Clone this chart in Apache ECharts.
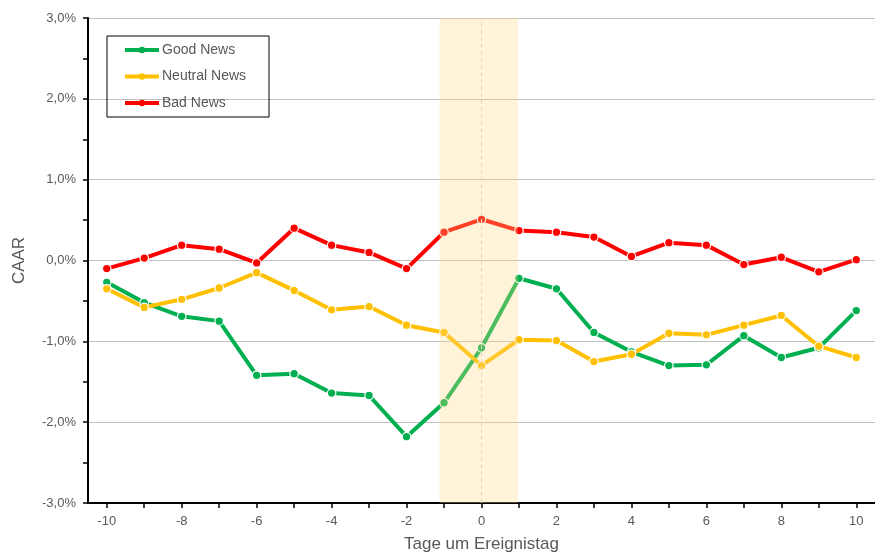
<!DOCTYPE html>
<html>
<head>
<meta charset="utf-8">
<script src="https://cdn.jsdelivr.net/npm/echarts@6/dist/echarts.min.js"></script>
<style>
  html, body { margin: 0; padding: 0; background: #fff; }
  #chart { width: 875px; height: 559px; }
</style>
</head>
<body>
<div id="chart"></div>
<script>
// Event days around the announcement
const days = ['-10','-9','-8','-7','-6','-5','-4','-3','-2','-1','0','1','2','3','4','5','6','7','8','9','10'];

// Cumulative average abnormal returns (CAAR) in percent
const goodNews    = [-0.27,-0.52,-0.69,-0.75,-1.42,-1.40,-1.64,-1.67,-2.18,-1.76,-1.08,-0.22,-0.35,-0.89,-1.13,-1.30,-1.29,-0.93,-1.20,-1.08,-0.62];
const neutralNews = [-0.35,-0.58,-0.48,-0.34,-0.15,-0.37,-0.61,-0.57,-0.80,-0.89,-1.30,-0.98,-0.99,-1.25,-1.16,-0.90,-0.92,-0.80,-0.68,-1.06,-1.20];
const badNews     = [-0.10, 0.03, 0.19, 0.14,-0.03, 0.40, 0.19, 0.10,-0.10, 0.35, 0.51, 0.37, 0.35, 0.29, 0.05, 0.22, 0.19,-0.05, 0.04,-0.14, 0.01];

// Event window shading (in day units) and the event day marker
const eventWindow = [-1.12, 0.97];
const eventDay = 0;

const yTicks = { min: -3, max: 3, step: 1 };

const textColor = '#595959';
const fontFamily = '"Liberation Sans", Arial, sans-serif';

function lineSeries(name, data, color) {
  return {
    name: name,
    type: 'line',
    xAxisIndex: 0,
    data: data,
    symbol: 'circle',
    symbolSize: 8.5,
    z: 3,
    lineStyle: { color: color, width: 4 },
    itemStyle: { color: color, borderColor: '#fff', borderWidth: 1.2 },
    emphasis: { disabled: true }
  };
}

const chart = echarts.init(document.getElementById('chart'));
chart.setOption({
  animation: false,
  backgroundColor: '#fff',
  textStyle: { fontFamily: fontFamily },
  grid: { left: 88, right: 0, top: 18, bottom: 56 },
  legend: {
    orient: 'vertical',
    left: 107,
    top: 36,
    padding: [7, 23, 7, 16],
    itemWidth: 34,
    itemHeight: 8,
    itemGap: 12.5,
    borderColor: '#000',
    borderWidth: 1,
    data: ['Good News', 'Neutral News', 'Bad News'],
    lineStyle: { width: 4 },
    itemStyle: { borderWidth: 0 },
    textStyle: { color: textColor, fontSize: 14, fontFamily: fontFamily, padding: [0, 0, 0, -2] }
  },
  xAxis: [
    {
      type: 'category',
      data: days,
      boundaryGap: true,
      name: 'Tage um Ereignistag',
      nameLocation: 'middle',
      nameGap: 33,
      nameTextStyle: { color: textColor, fontSize: 17, fontFamily: fontFamily },
      axisLine: { onZero: false, lineStyle: { color: '#000', width: 2 } },
      axisTick: { show: true, alignWithLabel: true, interval: 0, length: 5, lineStyle: { color: '#000', width: 1.5 } },
      axisLabel: { interval: 1, color: textColor, fontSize: 13, margin: 12, fontFamily: fontFamily },
      splitLine: { show: false }
    },
    {
      type: 'value',
      min: -10.5,
      max: 10.5,
      show: false,
      axisLine: { onZero: false }
    }
  ],
  yAxis: {
    type: 'value',
    min: yTicks.min,
    max: yTicks.max,
    interval: yTicks.step,
    name: 'CAAR',
    nameLocation: 'middle',
    nameRotate: 90,
    nameGap: 60,
    nameTextStyle: { color: textColor, fontSize: 17, fontFamily: fontFamily },
    axisLine: { show: true, onZero: false, lineStyle: { color: '#000', width: 2 } },
    axisTick: { show: true, length: 5, lineStyle: { color: '#000', width: 1.5 } },
    minorTick: { show: true, splitNumber: 2, length: 5, lineStyle: { color: '#000', width: 1.5 } },
    axisLabel: {
      color: textColor,
      fontSize: 13,
      margin: 12,
      fontFamily: fontFamily,
      formatter: v => v.toFixed(1).replace('.', ',') + '%'
    },
    splitLine: { show: true, lineStyle: { color: '#c0c0c0', width: 1.2 } }
  },
  series: [
    {
      name: 'event-day',
      type: 'line',
      xAxisIndex: 1,
      data: [],
      z: 1,
      silent: true,
      markLine: {
        silent: true,
        symbol: 'none',
        label: { show: false },
        lineStyle: { color: '#d6d6d6', type: [4, 3], width: 1 },
        data: [{ xAxis: eventDay }]
      }
    },
    lineSeries('Good News', goodNews, '#00B050'),
    lineSeries('Neutral News', neutralNews, '#FFC000'),
    lineSeries('Bad News', badNews, '#FF0000'),
    {
      name: 'event-window',
      type: 'line',
      xAxisIndex: 1,
      data: [],
      z: 5,
      silent: true,
      markArea: {
        silent: true,
        z: 10,
        itemStyle: { color: 'rgba(255, 214, 130, 0.3)' },
        data: [[{ xAxis: eventWindow[0] }, { xAxis: eventWindow[1] }]]
      }
    }
  ]
});
</script>
</body>
</html>
